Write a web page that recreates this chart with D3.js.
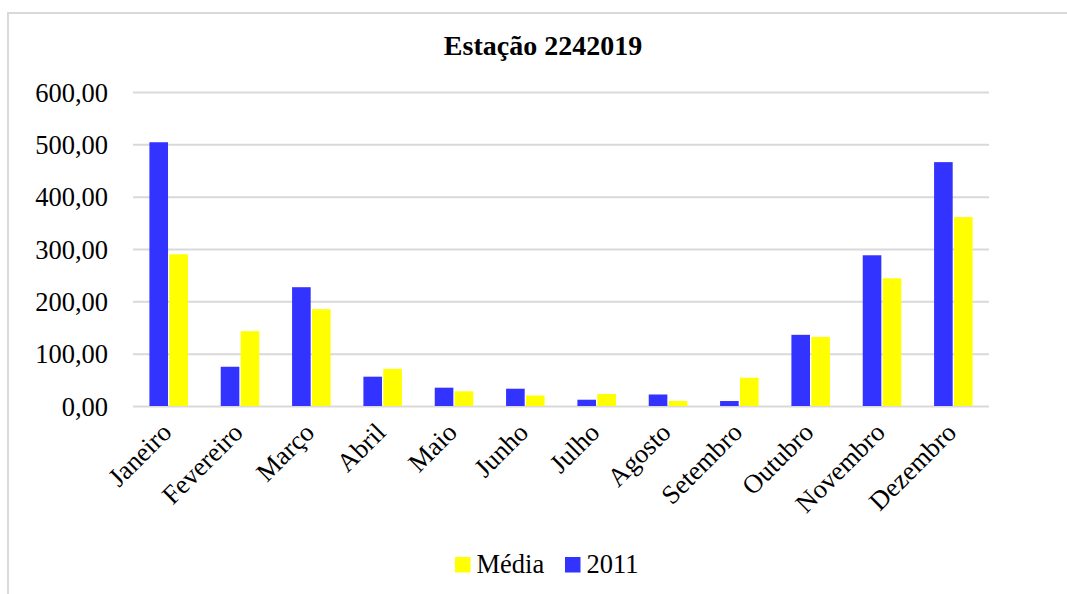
<!DOCTYPE html>
<html>
<head>
<meta charset="utf-8">
<script src="https://cdn.jsdelivr.net/npm/d3@7"></script>
<style>
  html, body { margin: 0; padding: 0; background: #fff; }
  svg { display: block; }
  svg text { font-family: "Liberation Serif", "Times New Roman", serif !important; }
</style>
</head>
<body>
<svg id="chart" width="1067" height="594"></svg>
<script>
// Monthly rainfall for the station, 2011 versus the long-term average
const months = ["Janeiro", "Fevereiro", "Março", "Abril", "Maio", "Junho",
                "Julho", "Agosto", "Setembro", "Outubro", "Novembro", "Dezembro"];
const values2011 = [504, 75, 227, 56, 35, 33, 12, 22, 9.5, 136, 288, 466];
const valuesMedia = [290, 143, 185, 71, 28, 20, 23, 9.5, 54, 132, 244, 361];
const yTicks = [0, 100, 200, 300, 400, 500, 600];
const seriesNames = ["2011", "Média"];
const seriesColors = { "2011": "#3333ff", "Média": "#ffff00" };
const legendOrder = ["Média", "2011"];
const titleText = "Estação 2242019";

const svg = d3.select("#chart");
const W = 1067, H = 594;
const plot = { left: 133, right: 989, top: 92, bottom: 406 };
const fontSize = 26.5;
const serif = '"Liberation Serif", "Times New Roman", serif';

// Outer frame
svg.append("rect")
  .attr("x", 8).attr("y", 13)
  .attr("width", W + 20).attr("height", H + 20)
  .attr("fill", "#fff")
  .attr("stroke", "#d9d9d9").attr("stroke-width", 2);

const ptBR = d3.formatLocale({ decimal: ",", thousands: ".", grouping: [3], currency: ["R$", ""] });
const fmt = ptBR.format(".2f");

const x = d3.scaleBand().domain(months)
  .range([plot.left, plot.right])
  .paddingInner(0.46).paddingOuter(0.23);
const xInner = d3.scaleBand().domain(seriesNames)
  .range([0, x.bandwidth()])
  .paddingInner(0.065);
const y = d3.scaleLinear().domain([0, 600]).range([plot.bottom, plot.top]);

// Horizontal gridlines
const yAxis = d3.axisLeft(y).tickValues(yTicks).tickFormat(fmt)
  .tickSize(-(plot.right - plot.left)).tickPadding(25);
const gy = svg.append("g").attr("transform", `translate(${plot.left},0)`).call(yAxis)
  .attr("font-family", null);
gy.select(".domain").remove();
gy.selectAll(".tick line").attr("stroke", "#d9d9d9").attr("stroke-width", 2);
gy.selectAll(".tick text")
  .style("font-family", serif)
  .attr("font-size", fontSize).attr("fill", "#000")
  .attr("dy", "0.34em");

// Bars
const rows = months.map((m, i) => ({ month: m, "2011": values2011[i], "Média": valuesMedia[i] }));
const groups = svg.append("g").selectAll("g").data(rows).join("g")
  .attr("transform", d => `translate(${x(d.month)},0)`);
groups.selectAll("rect")
  .data(d => seriesNames.map(s => ({ s, v: d[s] })))
  .join("rect")
  .attr("x", d => xInner(d.s))
  .attr("width", xInner.bandwidth())
  .attr("y", d => y(d.v))
  .attr("height", d => y(0) - y(d.v))
  .attr("fill", d => seriesColors[d.s]);

// Category axis with rotated labels
const xAxis = d3.axisBottom(x).tickSize(0).tickPadding(0);
const gx = svg.append("g").attr("transform", `translate(0,${plot.bottom})`).call(xAxis)
  .attr("font-family", null);
gx.select(".domain").remove();
gx.selectAll(".tick text")
  .style("font-family", serif)
  .attr("font-size", fontSize).attr("fill", "#000")
  .attr("text-anchor", "end")
  .attr("dy", null).attr("y", null)
  .attr("transform", "translate(4.5,28) rotate(-45)");

// Title
svg.append("text")
  .attr("x", 543).attr("y", 55)
  .attr("text-anchor", "middle")
  .style("font-family", serif)
  .attr("font-size", 28).attr("font-weight", "bold")
  .text(titleText);

// Legend
const legend = svg.append("g").attr("transform", "translate(455,557)");
const legendX = { "Média": 0, "2011": 110 };
legendOrder.forEach(s => {
  const g = legend.append("g").attr("transform", `translate(${legendX[s]},0)`);
  g.append("rect").attr("width", 15.5).attr("height", 15.5).attr("fill", seriesColors[s]);
  g.append("text").attr("x", 21.5).attr("y", 15.5)
    .style("font-family", serif)
    .attr("font-size", fontSize).attr("fill", "#000").text(s);
});
</script>
</body>
</html>
